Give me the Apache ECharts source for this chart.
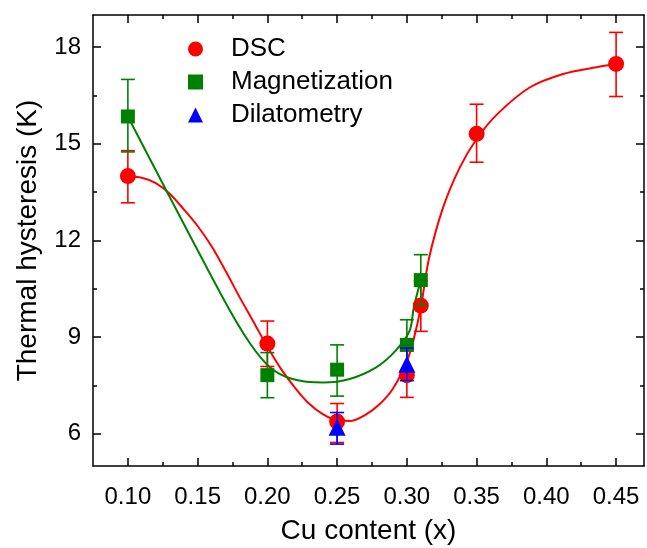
<!DOCTYPE html>
<html>
<head>
<meta charset="utf-8">
<script src="https://cdn.jsdelivr.net/npm/echarts@6/dist/echarts.min.js"></script>
<style>
  html, body { margin: 0; padding: 0; background: #fff; }
  #chart { width: 647px; height: 548px; }
</style>
</head>
<body>
<div id="chart"></div>
<script>
// tick positions
var xMajor = [0.10, 0.15, 0.20, 0.25, 0.30, 0.35, 0.40, 0.45];
var xMinor = [0.125, 0.175, 0.225, 0.275, 0.325, 0.375, 0.425];
var yMajor = [6, 9, 12, 15, 18];
var yMinor = [7.5, 10.5, 13.5, 16.5];

// DSC
var dscX  = [0.10, 0.20, 0.25, 0.30, 0.31, 0.35, 0.45];
var dscY  = [14.0, 8.8, 6.38, 7.82, 9.98, 15.31, 17.48];
var dscLo = [13.17, 8.09, 5.73, 7.13, 9.18, 14.43, 16.47];
var dscHi = [14.79, 9.50, 6.94, 8.58, 10.75, 16.23, 18.46];

// Magnetization
var magX  = [0.10, 0.20, 0.25, 0.30, 0.31];
var magY  = [15.85, 7.82, 7.99, 8.76, 10.77];
var magLo = [14.75, 7.12, 7.17, 7.96, 9.98];
var magHi = [17.0, 8.52, 8.76, 9.54, 11.56];

// Dilatometry
var dilX  = [0.25, 0.30];
var dilY  = [6.2, 8.16];
var dilLo = [5.68, 7.65];
var dilHi = [6.66, 8.66];

// fitted curves
var dscFitX = [0.100, 0.110, 0.120, 0.130, 0.140, 0.150, 0.160, 0.170, 0.180, 0.190, 0.200, 0.210, 0.220, 0.230, 0.240, 0.250, 0.260, 0.270, 0.280, 0.290, 0.300, 0.305, 0.310, 0.316, 0.326, 0.338, 0.350, 0.365, 0.388, 0.412, 0.436, 0.450];
var dscFitY = [13.98, 13.95, 13.78, 13.45, 12.97, 12.45, 11.82, 11.06, 10.25, 9.48, 8.70, 8.00, 7.42, 6.93, 6.60, 6.42, 6.40, 6.58, 6.90, 7.40, 8.25, 8.95, 9.93, 11.47, 13.03, 14.27, 15.15, 15.93, 16.75, 17.17, 17.38, 17.48];
var magFitX = [0.100, 0.168, 0.187, 0.202, 0.218, 0.240, 0.259, 0.278, 0.292, 0.302, 0.305, 0.310];
var magFitY = [15.85, 10.23, 8.84, 8.06, 7.70, 7.59, 7.70, 8.06, 8.58, 9.20, 9.93, 10.77];

var RED = '#ff0000', GREEN = '#008000', BLUE = '#0000ff';
var FONT = 'Liberation Sans, Arial, sans-serif';

function zip(a, b) {
    var out = [];
    for (var i = 0; i < a.length; i++) out.push([a[i], b[i]]);
    return out;
}
function zip3(a, b, c) {
    var out = [];
    for (var i = 0; i < a.length; i++) out.push([a[i], b[i], c[i]]);
    return out;
}

function errorSeries(color, xs, lo, hi, z) {
    return {
        type: 'custom',
        z: z,
        data: zip3(xs, lo, hi),
        encode: { x: 0, y: [1, 2] },
        renderItem: function (params, api) {
            var top = api.coord([api.value(0), api.value(2)]);
            var bot = api.coord([api.value(0), api.value(1)]);
            var w = 7;
            var st = { stroke: color, lineWidth: 1.6 };
            return {
                type: 'group',
                children: [
                    { type: 'line', shape: { x1: top[0], y1: top[1], x2: bot[0], y2: bot[1] }, style: st },
                    { type: 'line', shape: { x1: top[0] - w, y1: top[1], x2: top[0] + w, y2: top[1] }, style: st },
                    { type: 'line', shape: { x1: bot[0] - w, y1: bot[1], x2: bot[0] + w, y2: bot[1] }, style: st }
                ]
            };
        }
    };
}

function xAx(pos, vals, len, main) {
    var labels = main && pos === 'bottom';
    return {
        type: 'value', position: pos, min: 0.075, max: 0.47,
        axisLine: { show: main, lineStyle: { color: '#000', width: 1.5 } },
        axisTick: { show: true, inside: true, length: len, customValues: vals, lineStyle: { color: '#000', width: 1.5 } },
        axisLabel: labels ? {
            show: true, customValues: vals, margin: 19, color: '#000', fontSize: 24, fontFamily: FONT,
            formatter: function (v) { return v.toFixed(2); }
        } : { show: false },
        splitLine: { show: false },
        name: labels ? 'Cu content (x)' : '',
        nameLocation: 'middle', nameGap: 51,
        nameTextStyle: { color: '#000', fontSize: 28, fontFamily: FONT }
    };
}
function yAx(pos, vals, len, main) {
    var labels = main && pos === 'left';
    return {
        type: 'value', position: pos, min: 5, max: 19,
        axisLine: { show: main, lineStyle: { color: '#000', width: 1.5 } },
        axisTick: { show: true, inside: true, length: len, customValues: vals, lineStyle: { color: '#000', width: 1.5 } },
        axisLabel: labels ? {
            show: true, customValues: vals, margin: 12, color: '#000', fontSize: 24, fontFamily: FONT
        } : { show: false },
        splitLine: { show: false },
        name: labels ? 'Thermal hysteresis (K)' : '',
        nameLocation: 'middle', nameGap: 51,
        nameTextStyle: { color: '#000', fontSize: 28, fontFamily: FONT }
    };
}

var chart = echarts.init(document.getElementById('chart'), null, { renderer: 'canvas' });
chart.setOption({
    animation: false,
    backgroundColor: '#fff',
    grid: { left: 93, right: 3, top: 15, bottom: 82, containLabel: false, outerBoundsMode: 'none' },
    legend: {
        orient: 'vertical', left: 183, top: 31, itemGap: 7,
        itemWidth: 15, itemHeight: 15,
        textStyle: { color: '#000', fontSize: 26, fontFamily: FONT, padding: [0, 0, 0, 23] },
        data: [
            { name: 'DSC', icon: 'circle' },
            { name: 'Magnetization', icon: 'rect' },
            { name: 'Dilatometry', icon: 'triangle' }
        ]
    },
    xAxis: [
        xAx('bottom', xMajor, 8, true),
        xAx('bottom', xMinor, 4, false),
        xAx('top', xMajor, 8, true),
        xAx('top', xMinor, 4, false)
    ],
    yAxis: [
        yAx('left', yMajor, 8, true),
        yAx('left', yMinor, 4, false),
        yAx('right', yMajor, 8, true),
        yAx('right', yMinor, 4, false)
    ],
    series: [
        {
            name: 'DSC fit', type: 'line', smooth: 0.3, showSymbol: false, z: 2,
            data: zip(dscFitX, dscFitY), lineStyle: { color: RED, width: 2 }
        },
        {
            name: 'Magnetization fit', type: 'line', smooth: 0.3, showSymbol: false, z: 2,
            data: zip(magFitX, magFitY), lineStyle: { color: GREEN, width: 2 }
        },
        errorSeries(RED, dscX, dscLo, dscHi, 3),
        {
            name: 'DSC', type: 'scatter', symbol: 'circle', symbolSize: 16, z: 4,
            itemStyle: { color: RED, opacity: 1 }, data: zip(dscX, dscY)
        },
        errorSeries(GREEN, magX, magLo, magHi, 5),
        {
            name: 'Magnetization', type: 'scatter', symbol: 'rect', symbolSize: 14, z: 6,
            itemStyle: { color: GREEN, opacity: 1 }, data: zip(magX, magY)
        },
        errorSeries(BLUE, dilX, dilLo, dilHi, 7),
        {
            name: 'Dilatometry', type: 'scatter', symbol: 'triangle', symbolSize: 17, z: 8,
            itemStyle: { color: BLUE, opacity: 1 }, data: zip(dilX, dilY)
        }
    ]
});
</script>
</body>
</html>
